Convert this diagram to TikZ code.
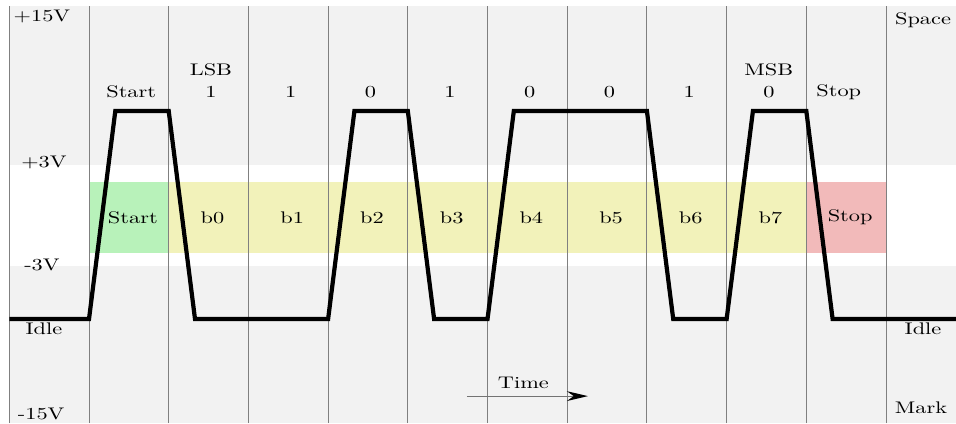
\documentclass[tikz,border=0pt]{standalone}
\usepackage{fontspec}
\newfontfamily\widelm[FakeStretch=1.33]{lmroman10-regular.otf}
\usepackage{tikz}
\usetikzlibrary{arrows.meta,positioning}
\definecolor{startgreen}{RGB}{184,242,186}
\definecolor{bityellow}{RGB}{242,242,186}
\definecolor{stoppink}{RGB}{242,186,186}
\tikzstyle{lbl} = [font={\widelm\fontsize{12}{14}\selectfont}, inner sep=1pt]
\tikzstyle{signal} = [line width=3pt, black]
\tikzstyle{boundary} = [line width=0.7pt, gray]

\begin{document}
\begin{tikzpicture}[x=2cm, y=0.0251cm, node distance = 2cm]
  \useasboundingbox (-1.1167,0) rectangle (10.878,423);
  % bands
  \fill[gray!10] (-1,0) rectangle (10.878,417);
  \fill[white] (-1,157) rectangle (10.878,258);
  \fill[startgreen] (0,170) rectangle (1,241);
  \fill[bityellow] (1,170) rectangle (9,241);
  \fill[stoppink] (9,170) rectangle (10,241);
  \foreach \i in {-1,...,10}
    \draw[boundary] (\i,0) -- (\i,417);
  % waveform
  \draw[signal] (-1,104) -- (0,104) -- (0.33,312) -- (1,312) -- (1.33,104)
    -- (3,104) -- (3.33,312) -- (4,312) -- (4.33,104) -- (5,104)
    -- (5.33,312) -- (7,312) -- (7.33,104) -- (8,104) -- (8.33,312)
    -- (9,312) -- (9.33,104) -- (10.878,104);
  % bit values
  \node [lbl] (t0) at (0.53,331) {Start};
  \node [lbl, right of=t0] (t1) {1};
  \node [lbl, right of=t1] (t2) {1};
  \node [lbl, right of=t2] (t3) {0};
  \node [lbl, right of=t3] (t4) {1};
  \node [lbl, right of=t4] (t5) {0};
  \node [lbl, right of=t5] (t6) {0};
  \node [lbl, right of=t6] (t7) {1};
  \node [lbl, right of=t7] (t8) {0};
  \node [lbl, right of=t8, xshift=-7pt] (t9) {Stop};
  \node [lbl, above of=t1, node distance=0.55cm] (lsb) {LSB};
  \node [lbl, above of=t8, node distance=0.55cm] (msb) {MSB};
  % frame fields
  \node [lbl] (f0) at (0.55,205.5) {Start};
  \node [lbl, right of=f0] (f1) {b0};
  \node [lbl, right of=f1] (f2) {b1};
  \node [lbl, right of=f2] (f3) {b2};
  \node [lbl, right of=f3] (f4) {b3};
  \node [lbl, right of=f4] (f5) {b4};
  \node [lbl, right of=f5] (f6) {b5};
  \node [lbl, right of=f6] (f7) {b6};
  \node [lbl, right of=f7] (f8) {b7};
  \node [lbl, right of=f8] (f9) {Stop};
  % levels
  \node [lbl] (vp15) at (-0.59,407) {+15V};
  \node [lbl] (vp3) at (-0.565,261) {+3V};
  \node [lbl] (vm3) at (-0.59,158) {-3V};
  \node [lbl] (idlel) at (-0.565,94) {Idle};
  \node [lbl] (vm15) at (-0.60,9) {-15V};
  \node [lbl] (space) at (10.464,403) {Space};
  \node [lbl] (idler) at (10.464,94) {Idle};
  \node [lbl] (mark) at (10.44,15) {Mark};
  % time axis
  \coordinate (tstart) at (4.74,27);
  \coordinate (tend) at (6.26,27);
  \node [lbl] (time) at (5.45,40) {Time};
  \draw[-{Stealth[length=15pt,width=7pt,black]}, black!55, line width=0.8pt] (tstart) -- (tend);
\end{tikzpicture}
\end{document}
